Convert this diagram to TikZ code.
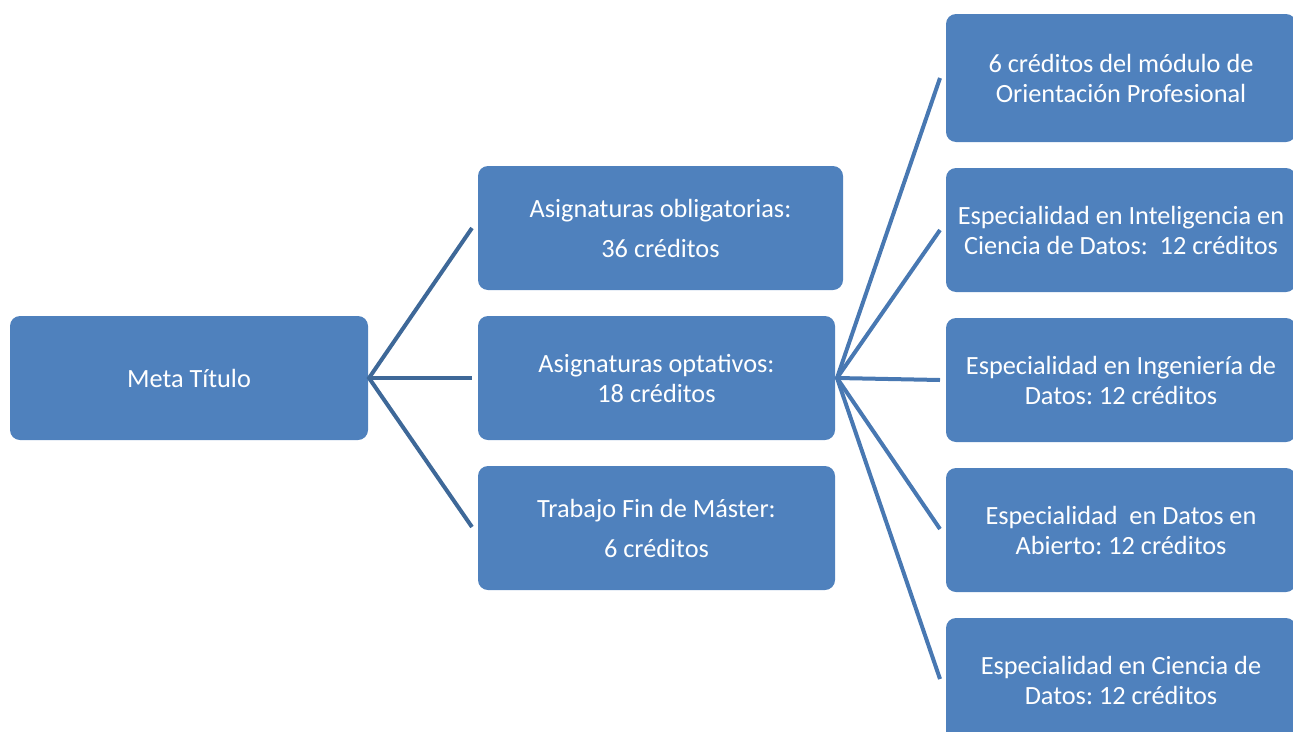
\documentclass[tikz,border=0pt]{standalone}
\usepackage{fontspec}
\setmainfont{Carlito}
\frenchspacing
\definecolor{boxblue}{HTML}{4F81BD}
\definecolor{lineleft}{HTML}{3E6898}
\definecolor{lineright}{HTML}{4878B2}
\begin{document}
\begin{tikzpicture}[x=1pt,y=-1pt,
  box/.style={draw=none,fill=boxblue,rounded corners=10pt,inner sep=0pt,
    text=white,align=center,font=\fontsize{26.3}{30}\selectfont},
  lfan/.style={draw=lineleft,line width=4pt},
  rfan/.style={draw=lineright,line width=4pt}]
\useasboundingbox (0,0) rectangle (1293,731);
\clip (0,0) rectangle (1293,731);
% left column
\node[box,minimum width=358pt,minimum height=124pt] (meta) at (189,378) {Meta Título};
% middle column
\node[box,minimum width=365pt,minimum height=124pt] (oblig) at (660.5,228) {Asignaturas obligatorias:\\[10pt]36 créditos};
\node[box,minimum width=357pt,minimum height=124pt] (optat) at (656.5,378) {Asignaturas optativos:\\18 créditos};
\node[box,minimum width=357pt,minimum height=124pt] (tfm) at (656.5,528) {Trabajo Fin de Máster:\\[10pt]6 créditos};
% right column
\node[box,minimum width=350pt,minimum height=128pt] (r1) at (1121,78) {6 créditos del módulo de\\Orientación Profesional};
\node[box,minimum width=350pt,minimum height=124pt] (r2) at (1121,230) {Especialidad en Inteligencia en\\Ciencia de Datos:~ 12 créditos};
\node[box,minimum width=350pt,minimum height=124pt] (r3) at (1121,380) {Especialidad en Ingeniería de\\Datos: 12 créditos};
\node[box,minimum width=350pt,minimum height=124pt] (r4) at (1121,530) {Especialidad~ en Datos en\\Abierto: 12 créditos};
\node[box,minimum width=350pt,minimum height=124pt] (r5) at (1121,680) {Especialidad en Ciencia de\\Datos: 12 créditos};
% connector points
\coordinate (lhub) at (369,378);
\coordinate (l1) at (472,228);
\coordinate (l2) at (472,378);
\coordinate (l3) at (472,527);
\coordinate (rhub) at (837,378);
\coordinate (e1) at (940,78);
\coordinate (e2) at (940,230);
\coordinate (e3) at (940,380);
\coordinate (e4) at (940,529);
\coordinate (e5) at (940,679);
\draw[lfan] (l1) -- (lhub) -- (l3);
\draw[lfan] (lhub) -- (l2);
\draw[rfan] (e1) -- (rhub) -- (e5);
\draw[rfan] (e2) -- (rhub) -- (e4);
\draw[rfan] (rhub) -- (e3);
\end{tikzpicture}
\end{document}
